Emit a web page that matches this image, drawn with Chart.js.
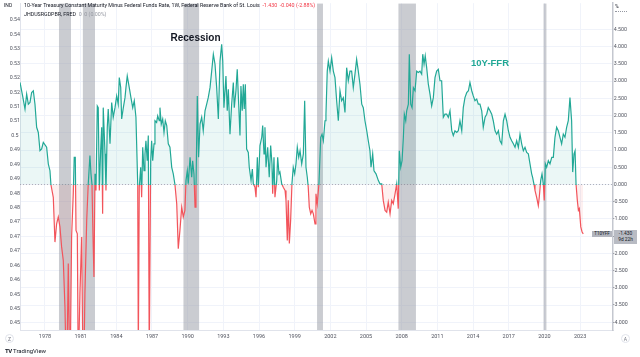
<!DOCTYPE html>
<html><head><meta charset="utf-8">
<script src="https://cdn.jsdelivr.net/npm/chart.js@4.4.1/dist/chart.umd.min.js"></script>
<style>
html,body{margin:0;padding:0;background:#fff;}
#wrap{position:relative;width:640px;height:357px;overflow:hidden;font-family:Roboto,"Liberation Sans",Arial,sans-serif;}
#c{position:absolute;left:0;top:0;}
.t{position:absolute;white-space:nowrap;line-height:1;}
</style></head><body>
<div id="wrap">
<canvas id="c" width="640" height="357"></canvas>
<div class="t" style="left:4px;top:3px;font-size:5px;color:#131722">IND</div>
<div class="t" style="left:24px;top:2.5px;font-size:5.3px;color:#131722">10-Year Treasury Constant Maturity Minus Federal Funds Rate, 1W, Federal Reserve Bank of St. Louis&nbsp; <span style="color:#f23645">-1.430&nbsp; -0.040 (-2.88%)</span></div>
<div class="t" style="left:24px;top:11.5px;font-size:5.3px;color:#131722">JHDUSRGDPBR, FRED&nbsp; <span style="color:#9598a1">0&nbsp; 0 (0.00%)</span></div>
<div class="t" style="left:615px;top:4px;font-size:5px;color:#131722;border-bottom:1px dotted #9598a1;width:12px;padding-bottom:2px">%</div>
<div class="t" style="left:170.5px;top:32.5px;font-size:10px;font-weight:bold;color:#131722;font-family:'Liberation Sans',Arial,sans-serif">Recession</div>
<div class="t" style="left:471px;top:57.5px;font-size:9.5px;font-weight:bold;color:#22a896;font-family:'Liberation Sans',Arial,sans-serif">10Y-FFR</div>
<div class="t" id="tagName" style="left:592px;top:231px;width:20px;height:6px;background:#b2b5be;font-size:4.5px;color:#131722;text-align:center;line-height:6px">T10YFF</div>
<div class="t" id="tagVal" style="left:614px;top:230px;width:23px;height:13px;background:#b8bbc3;font-size:4.8px;color:#131722;text-align:center;line-height:6px;padding-top:0.5px">-1.430<br>9d 22h</div>
<div class="t" style="left:5px;top:334px;width:9px;height:9px;border:1px solid #e0e3eb;border-radius:50%;font-size:5px;color:#787b86;text-align:center;line-height:9px;box-sizing:border-box">Z</div>
<div class="t" style="left:621px;top:334px;width:9px;height:9px;border:1px solid #e0e3eb;border-radius:50%;font-size:5px;color:#787b86;text-align:center;line-height:9px;box-sizing:border-box">A</div>
<div class="t" style="left:5px;top:348px;font-size:6px;color:#131722"><b style="letter-spacing:-0.5px">TV</b> TradingView</div>
</div>
<script>
// ---- data (decimal years) ----
const dates = [1975.90,1976.12,1976.32,1976.46,1976.60,1976.74,1976.88,1977.02,1977.16,1977.30,1977.44,1977.58,1977.72,1977.86,1978.14,1978.28,1978.42,1978.50,1978.70,1978.84,1978.98,1979.12,1979.26,1979.40,1979.54,1979.68,1979.82,1979.96,1980.10,1980.24,1980.38,1980.46,1980.55,1980.61,1980.72,1980.80,1980.94,1981.09,1981.22,1981.36,1981.51,1981.64,1981.78,1981.87,1981.95,1982.06,1982.12,1982.21,1982.29,1982.40,1982.48,1982.57,1982.68,1982.77,1982.85,1982.90,1983.05,1983.13,1983.24,1983.32,1983.47,1983.61,1983.74,1983.89,1984.03,1984.16,1984.25,1984.37,1984.45,1984.59,1984.73,1984.81,1984.92,1985.09,1985.23,1985.38,1985.51,1985.65,1985.71,1985.80,1985.85,1985.93,1986.05,1986.13,1986.22,1986.33,1986.41,1986.49,1986.60,1986.69,1986.77,1986.89,1986.97,1987.06,1987.17,1987.25,1987.39,1987.48,1987.61,1987.67,1987.78,1987.90,1988.01,1988.12,1988.24,1988.37,1988.51,1988.66,1988.79,1988.93,1989.08,1989.21,1989.35,1989.50,1989.63,1989.77,1989.86,1989.97,1990.05,1990.20,1990.34,1990.42,1990.53,1990.62,1990.70,1990.81,1990.92,
1991.04,1991.18,1991.31,1991.46,1991.60,1991.73,1991.88,1992.02,1992.16,1992.30,1992.44,1992.58,1992.72,1992.86,1992.95,1993.05,1993.22,1993.33,1993.42,1993.56,1993.70,1993.84,1993.92,1994.06,1994.17,1994.29,1994.40,1994.48,1994.59,1994.68,1994.76,1994.85,1994.96,1995.10,1995.18,1995.33,1995.44,1995.52,1995.66,1995.75,1995.86,1995.94,1996.08,1996.23,1996.31,1996.42,1996.50,1996.59,1996.73,1996.86,1996.98,1997.09,1997.15,1997.26,1997.34,1997.49,1997.57,1997.68,1997.76,1997.91,1998.04,1998.19,1998.27,1998.38,1998.46,1998.55,1998.66,1998.77,1998.88,1999.00,1999.11,1999.22,1999.34,1999.45,1999.59,1999.73,1999.84,1999.95,2000.06,2000.14,2000.23,2000.35,2000.46,2000.57,2000.71,2000.79,2000.90,2001.04,2001.19,2001.30,2001.41,2001.55,2001.63,2001.74,2001.83,2001.97,2002.11,2002.25,2002.39,2002.53,2002.67,2002.81,2002.95,2003.09,2003.23,2003.37,2003.51,2003.65,2003.79,2003.93,2004.07,2004.21,2004.35,2004.49,2004.64,2004.77,2004.91,2005.06,2005.19,2005.33,2005.42,2005.56,2005.67,2005.84,2006.03,2006.17,2006.32,2006.45,2006.60,2006.74,2006.87,2007.02,
2007.16,2007.29,2007.44,2007.58,2007.71,2007.80,2007.92,2008.03,2008.14,2008.22,2008.34,2008.42,2008.56,2008.64,2008.76,2008.87,2008.98,2009.12,2009.26,2009.40,2009.54,2009.68,2009.77,2009.88,2009.98,2010.10,2010.24,2010.38,2010.52,2010.66,2010.80,2010.94,2011.08,2011.22,2011.36,2011.50,2011.64,2011.78,2011.92,2012.06,2012.21,2012.34,2012.48,2012.63,2012.76,2012.90,2013.05,2013.18,2013.32,2013.47,2013.61,2013.74,2013.89,2014.02,2014.16,2014.31,2014.44,2014.58,2014.73,2014.86,2015.01,2015.15,2015.28,2015.43,2015.57,2015.70,2015.85,2015.99,2016.13,2016.27,2016.41,2016.55,2016.69,2016.83,2016.97,2017.11,2017.25,2017.39,2017.53,2017.67,2017.81,2017.95,2018.09,2018.23,2018.37,2018.51,2018.65,2018.79,2018.93,2019.01,2019.13,2019.21,2019.35,2019.49,2019.57,2019.69,2019.80,2019.91,2019.99,2020.08,2020.19,2020.33,2020.47,2020.62,2020.75,2020.89,2021.03,2021.17,2021.31,2021.45,2021.59,2021.73,2021.87,2022.01,2022.15,2022.29,2022.38,2022.49,2022.58,2022.66,2022.77,2022.86,2022.94,2023.06,2023.17,2023.27];
const values = [2.96,2.57,2.19,2.62,2.33,2.38,2.67,2.72,2.33,1.66,1.51,0.98,1.03,1.22,1.08,0.60,0.40,0.00,-0.37,-1.67,-1.14,-0.94,-1.23,-1.81,-2.20,-3.55,-6.0,-2.29,-6.0,-1.52,-0.27,0.79,0.79,-1.33,-1.43,-5.5,-3.16,-1.52,-6.5,-3.16,-1.04,0.02,0.84,0.31,0.02,-1.81,-2.68,0.31,-0.17,2.28,2.23,-0.17,0.98,1.66,-0.85,2.23,0.89,-0.17,1.66,2.19,1.18,2.38,1.95,2.23,2.57,2.33,3.10,2.81,1.90,2.23,2.52,2.81,3.15,2.81,2.52,2.23,2.43,1.95,1.18,0.00,-5.0,-0.08,0.50,-0.37,1.08,0.40,0.89,1.27,0.69,1.42,-5.0,0.69,1.27,0.69,1.18,1.85,1.80,1.99,1.85,2.23,1.75,1.90,1.51,1.85,1.71,1.18,1.08,0.50,0.31,0.00,-0.56,-1.86,-1.33,-0.66,-0.94,-0.75,0.12,0.40,0.02,0.79,0.21,0.69,0.31,-0.66,-0.08,2.57,0.79,
1.75,1.95,1.56,2.14,2.33,2.52,2.81,3.29,3.78,3.49,2.81,1.90,3.58,4.07,3.58,2.23,3.15,2.14,2.76,1.46,2.33,2.96,2.23,2.72,3.34,2.33,1.42,2.86,2.14,2.91,2.19,2.91,1.03,0.93,0.50,0.12,0.45,0.02,-0.08,-0.37,0.79,-0.08,1.13,1.37,1.71,0.89,1.66,0.50,1.08,0.21,1.13,0.60,-0.27,0.79,-0.37,0.12,0.79,0.31,0.36,0.02,-0.08,-0.17,-0.46,-1.62,-0.46,-1.71,-1.04,0.02,0.50,0.31,0.60,1.08,0.79,0.98,0.60,0.89,2.43,0.50,0.21,-0.08,-0.66,-0.85,-0.75,-0.85,-1.14,-0.27,-0.56,0.02,1.37,1.46,1.27,1.85,2.04,3.29,3.58,3.29,3.68,3.29,3.10,2.43,1.85,2.72,2.43,2.52,2.09,3.39,3.01,3.29,3.29,2.81,3.20,3.63,3.29,2.91,2.33,2.23,1.85,1.56,1.27,0.98,0.50,0.89,0.40,0.31,0.12,0.02,0.02,-0.46,-0.75,-0.80,-0.51,-0.85,
-0.46,-0.56,-0.27,0.02,-0.70,0.98,0.50,0.69,1.37,2.04,1.85,2.14,2.33,3.78,2.33,2.23,2.81,2.72,3.29,3.25,3.29,3.20,3.78,3.49,3.73,3.39,2.91,2.62,2.28,2.52,3.10,3.29,3.34,3.01,3.01,1.95,2.04,2.04,1.95,2.14,1.56,1.42,1.56,1.51,1.56,1.85,1.56,2.23,2.52,2.67,2.72,2.96,2.72,2.57,2.43,2.48,2.33,2.33,2.14,1.66,1.95,2.04,2.23,2.14,2.04,1.85,1.56,1.46,1.56,1.27,1.18,1.85,2.04,1.85,1.56,1.37,1.27,1.18,1.08,1.27,1.08,1.46,1.18,0.98,1.08,0.93,0.89,0.60,0.31,0.21,0.00,-0.17,-0.37,-0.61,-0.37,0.12,0.31,0.02,-0.46,0.60,0.50,0.69,0.60,0.79,0.79,1.37,1.66,1.56,1.37,1.18,1.46,1.37,1.66,1.85,2.52,1.85,0.36,0.89,0.98,0.02,-0.46,-0.75,-0.70,-1.23,-1.38,-1.43];
const recessionStart = [1979.17,1981.17,1989.63,2000.88,2007.71,2019.91];
const recessionEnd   = [1980.19,1982.21,1990.98,2001.38,2009.20,2020.19];
const yearTicks = [1978,1981,1984,1987,1990,1993,1996,1999,2002,2005,2008,2011,2014,2017,2020,2023];
const rightTicks = [-4,-3.5,-3,-2.5,-2,-1.5,-1,-0.5,0,0.5,1,1.5,2,2.5,3,3.5,4,4.5];
const leftTickLabels = ['0.54','0.54','0.53','0.53','0.52','0.52','0.51','0.51','0.5','0.49','0.49','0.49','0.48','0.48','0.47','0.47','0.47','0.46','0.46','0.45','0.45','0.45'];

// ---- view ranges ----
const xMin = 1975.90, xMax = 2025.77;
const yMin = -4.22, yMax = 5.26;

const TEAL = '#22a896', RED = '#f2545b';
const FONT = "Roboto, 'Liberation Sans', Arial, sans-serif";

function lineColor(ctx){
  const ch = ctx.chart, a = ch.chartArea;
  if(!a) return TEAL;
  const y0 = ch.scales.y.getPixelForValue(0);
  const f = Math.min(1, Math.max(0, (y0 - a.top) / (a.bottom - a.top)));
  const g = ch.ctx.createLinearGradient(0, a.top, 0, a.bottom);
  g.addColorStop(0, TEAL); g.addColorStop(f, TEAL);
  g.addColorStop(f, RED); g.addColorStop(1, RED);
  return g;
}

const tagPlugin = {
  id:'tag',
  afterDraw(chart){
    const y = chart.scales.y.getPixelForValue(values[values.length-1]);
    document.getElementById('tagName').style.top = (y - 3) + 'px';
    document.getElementById('tagVal').style.top = (y - 3.5) + 'px';
  }
};

const recSets = recessionStart.map((s,i)=>({
  label:'JHDUSRGDPBR', data:[{x:s,y:1},{x:recessionEnd[i],y:1}], yAxisID:'yRec',
  borderWidth:0, pointRadius:0, backgroundColor:'rgba(150,153,163,0.5)', fill:'origin', order:3
}));

new Chart(document.getElementById('c'), {
  type:'line',
  data:{datasets:[
    {label:'T10YFF', data:dates.map((d,i)=>({x:d,y:values[i]})), yAxisID:'y',
     borderColor:lineColor, borderWidth:1.2, pointRadius:0, tension:0,
     fill:{target:{value:0}, above:'rgba(34,168,150,0.09)', below:'rgba(242,84,91,0.09)'}, order:0},
    {label:'zero', data:[{x:xMin,y:0},{x:xMax,y:0}], yAxisID:'y', borderColor:'rgba(120,123,134,0.55)',
     borderDash:[1,2], borderWidth:1, pointRadius:0, fill:false, order:1},
    ...recSets
  ]},
  options:{
    responsive:false, animation:false, devicePixelRatio:1,
    layout:{padding:{top:2,bottom:12,left:0,right:0}},
    plugins:{legend:{display:false}, tooltip:{enabled:false}},
    scales:{
      x:{type:'linear', min:xMin, max:xMax,
         afterBuildTicks(s){ s.ticks = yearTicks.map(v=>({value:v})); },
         ticks:{callback:v=>String(v), font:{size:5.5,family:FONT}, color:'#50535e', maxRotation:0, autoSkip:false, padding:3},
         grid:{color:'#f0f3fa', drawTicks:false}, border:{color:'#e0e3eb'},
         afterFit(s){ s.height = 15; }},
      y:{position:'right', min:yMin, max:yMax,
         afterBuildTicks(s){ s.ticks = rightTicks.map(v=>({value:v})); },
         ticks:{callback:v=>v.toFixed(3), font:{size:5.3,family:FONT}, color:'#50535e', crossAlign:'center', padding:0},
         grid:{color:'#f0f3fa', drawTicks:false}, border:{color:'#c4c7cf', width:1.5},
         afterFit(s){ s.width = 27; }},
      yInd:{position:'left', reverse:true, min:-1.174, max:21.478,
         afterBuildTicks(s){ s.ticks = leftTickLabels.map((_,i)=>({value:i})); },
         ticks:{callback:(v,i)=>leftTickLabels[i], font:{size:5.3,family:FONT}, color:'#50535e', crossAlign:'center', padding:0},
         grid:{display:false, drawTicks:false}, border:{color:'#e0e3eb'},
         afterFit(s){ s.width = 20; }},
      yRec:{display:false, min:0, max:1}
    }
  },
  plugins:[tagPlugin]
});
</script>
</body></html>
